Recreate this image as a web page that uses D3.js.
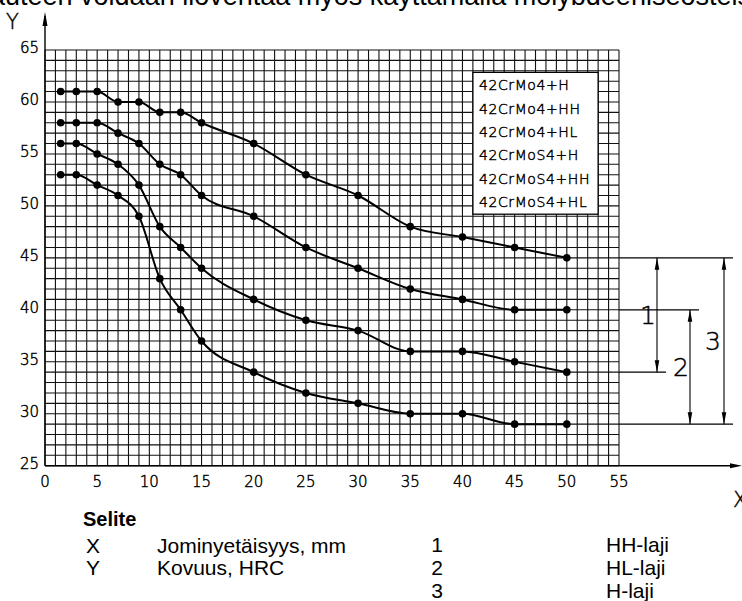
<!DOCTYPE html>
<html>
<head>
<meta charset="utf-8">
<script src="https://cdn.jsdelivr.net/npm/d3@7"></script>
<style>
  body { margin: 0; background: #fff; }
  .iso { font-family: "DejaVu Sans", sans-serif; font-weight: 200; fill: #000; stroke: #000; stroke-width: 0.45; }
  .arial { font-family: "Liberation Sans", Arial, sans-serif; fill: #000; }
</style>
</head>
<body>
<div id="chart"></div>
<script>
// Jominy distance (mm) and hardness (HRC) of the four band curves
var distances = [1.5, 3, 5, 7, 9, 11, 13, 15, 20, 25, 30, 35, 40, 45, 50];
var hMax  = [61, 61, 61, 60, 60, 59, 59, 58, 56, 53, 51, 48, 47, 46, 45];
var hhMin = [58, 58, 58, 57, 56, 54, 53, 51, 49, 46, 44, 42, 41, 40, 40];
var hlMax = [56, 56, 55, 54, 52, 48, 46, 44, 41, 39, 38, 36, 36, 35, 34];
var hMin  = [53, 53, 52, 51, 49, 43, 40, 37, 34, 32, 31, 30, 30, 29, 29];

var gradeLabels = ["42CrMo4+H", "42CrMo4+HH", "42CrMo4+HL", "42CrMoS4+H", "42CrMoS4+HH", "42CrMoS4+HL"];
var xTicks = [0, 5, 10, 15, 20, 25, 30, 35, 40, 45, 50, 55];
var yTicks = [25, 30, 35, 40, 45, 50, 55, 60, 65];

// scatter bands on the right: number, upper and lower hardness
var bandNames = ["1", "2", "3"];
var bandTop = [45, 40, 45];
var bandBottom = [34, 29, 29];

var seliteKeys = ["X", "Y"];
var seliteTexts = ["Jominyetäisyys, mm", "Kovuus, HRC"];
var lajiKeys = ["1", "2", "3"];
var lajiTexts = ["HH-laji", "HL-laji", "H-laji"];

var svgWidth = 742;
var svgHeight = 601;

var svg = d3.select("#chart")
    .append("svg")
    .attr("width", svgWidth)
    .attr("height", svgHeight);

var x = d3.scaleLinear().domain([0, 55]).range([45, 619]);
var y = d3.scaleLinear().domain([25, 65]).range([465.7, 50]);

// cut-off sentence from the page above
svg.append("text")
    .attr("class", "arial")
    .attr("x", -10)
    .attr("y", 5)
    .attr("font-size", 27)
    .text("auteen voidaan lioventaa myös käyttämällä molybdeeniseosteista");

// millimetre grid
var grid = svg.append("g")
    .attr("stroke", "#111")
    .attr("stroke-width", 1.1);

grid.selectAll("line.v")
    .data(d3.range(0, 56))
    .enter()
    .append("line")
    .attr("x1", d => x(d))
    .attr("x2", d => x(d))
    .attr("y1", y(25))
    .attr("y2", y(65));

grid.selectAll("line.h")
    .data(d3.range(25, 66))
    .enter()
    .append("line")
    .attr("x1", x(0))
    .attr("x2", x(55))
    .attr("y1", d => y(d))
    .attr("y2", d => y(d));

// legend box
svg.append("rect")
    .attr("x", x(41))
    .attr("y", y(62.85))
    .attr("width", x(53) - x(41))
    .attr("height", y(49.2) - y(62.85))
    .attr("fill", "#fff")
    .attr("stroke", "#000")
    .attr("stroke-width", 1.3);

svg.selectAll(".grade")
    .data(gradeLabels)
    .enter()
    .append("text")
    .attr("class", "iso")
    .attr("x", x(41) + 6)
    .attr("y", (d, i) => y(62.85) + 18 + i * 23.3)
    .attr("font-size", 14)
    .attr("letter-spacing", 0.6)
    .text(d => d);

// axes with arrows
svg.append("line")
    .attr("x1", x(0)).attr("x2", x(0))
    .attr("y1", y(25)).attr("y2", 16)
    .attr("stroke", "#000").attr("stroke-width", 1.4);
svg.append("path")
    .attr("d", `M${x(0)},12 L${x(0) - 2.5},26 L${x(0) + 2.5},26 Z`)
    .attr("fill", "#000");

svg.append("line")
    .attr("x1", x(0)).attr("x2", 736)
    .attr("y1", y(25)).attr("y2", y(25))
    .attr("stroke", "#000").attr("stroke-width", 1.4);
svg.append("path")
    .attr("d", `M742,${y(25)} L730,${y(25) - 2.5} L730,${y(25) + 2.5} Z`)
    .attr("fill", "#000");

svg.append("text").attr("class", "iso")
    .attr("x", 6).attr("y", 29)
    .attr("font-size", 21)
    .text("Y");
svg.append("text").attr("class", "iso")
    .attr("x", 733).attr("y", 507)
    .attr("font-size", 21)
    .text("X");

svg.selectAll(".xt")
    .data(xTicks)
    .enter()
    .append("text")
    .attr("class", "iso")
    .attr("x", d => x(d))
    .attr("y", 487)
    .attr("text-anchor", "middle")
    .attr("font-size", 15)
    .text(d => d);

svg.selectAll(".yt")
    .data(yTicks)
    .enter()
    .append("text")
    .attr("class", "iso")
    .attr("x", 39)
    .attr("y", d => y(d) + 3)
    .attr("text-anchor", "end")
    .attr("font-size", 15)
    .text(d => d);

// curves
var curves = [hMax, hhMin, hlMax, hMin];
var line = d3.line()
    .x(d => x(d[0]))
    .y(d => y(d[1]))
    .curve(d3.curveMonotoneX);

curves.forEach(function (vals) {
    var pts = distances.map((d, i) => [d, vals[i]]);
    svg.append("path")
        .attr("d", line(pts))
        .attr("fill", "none")
        .attr("stroke", "#000")
        .attr("stroke-width", 2);
    svg.selectAll(null)
        .data(pts)
        .enter()
        .append("circle")
        .attr("cx", d => x(d[0]))
        .attr("cy", d => y(d[1]))
        .attr("r", 3.8)
        .attr("fill", "#000");
});

// dimension lines for the scatter bands
var extLevels = [45, 40, 34, 29];
var extEnds = [733, 699, 666, 733];
extLevels.forEach(function (lv, i) {
    svg.append("line")
        .attr("x1", x(55)).attr("x2", extEnds[i])
        .attr("y1", y(lv)).attr("y2", y(lv))
        .attr("stroke", "#000").attr("stroke-width", 1.2);
});

var bandX = [657, 690, 724];
var labelX = [648, 681, 713];
bandNames.forEach(function (nm, i) {
    var yt = y(bandTop[i]), yb = y(bandBottom[i]), bx = bandX[i];
    svg.append("line")
        .attr("x1", bx).attr("x2", bx)
        .attr("y1", yt).attr("y2", yb)
        .attr("stroke", "#000").attr("stroke-width", 1.1);
    svg.append("path")
        .attr("d", `M${bx},${yt} L${bx - 2.3},${yt + 12} L${bx + 2.3},${yt + 12} Z`)
        .attr("fill", "#000");
    svg.append("path")
        .attr("d", `M${bx},${yb} L${bx - 2.3},${yb - 12} L${bx + 2.3},${yb - 12} Z`)
        .attr("fill", "#000");
    svg.append("text")
        .attr("class", "iso")
        .attr("x", labelX[i])
        .attr("y", (yt + yb) / 2 + 9)
        .attr("text-anchor", "middle")
        .attr("font-size", 25)
        .text(nm);
});

// explanation under the chart
svg.append("text")
    .attr("class", "arial")
    .attr("x", 83).attr("y", 526)
    .attr("font-size", 20)
    .attr("font-weight", "bold")
    .text("Selite");

seliteKeys.forEach(function (k, i) {
    svg.append("text").attr("class", "arial")
        .attr("x", 86).attr("y", 553 + i * 21.5)
        .attr("font-size", 21)
        .text(k);
    svg.append("text").attr("class", "arial")
        .attr("x", 157).attr("y", 553 + i * 21.5)
        .attr("font-size", 21)
        .text(seliteTexts[i]);
});

lajiKeys.forEach(function (k, i) {
    svg.append("text").attr("class", "arial")
        .attr("x", 437).attr("y", 552 + i * 23)
        .attr("text-anchor", "middle")
        .attr("font-size", 21)
        .text(k);
    svg.append("text").attr("class", "arial")
        .attr("x", 606).attr("y", 552 + i * 23)
        .attr("font-size", 21)
        .text(lajiTexts[i]);
});
</script>
</body>
</html>
